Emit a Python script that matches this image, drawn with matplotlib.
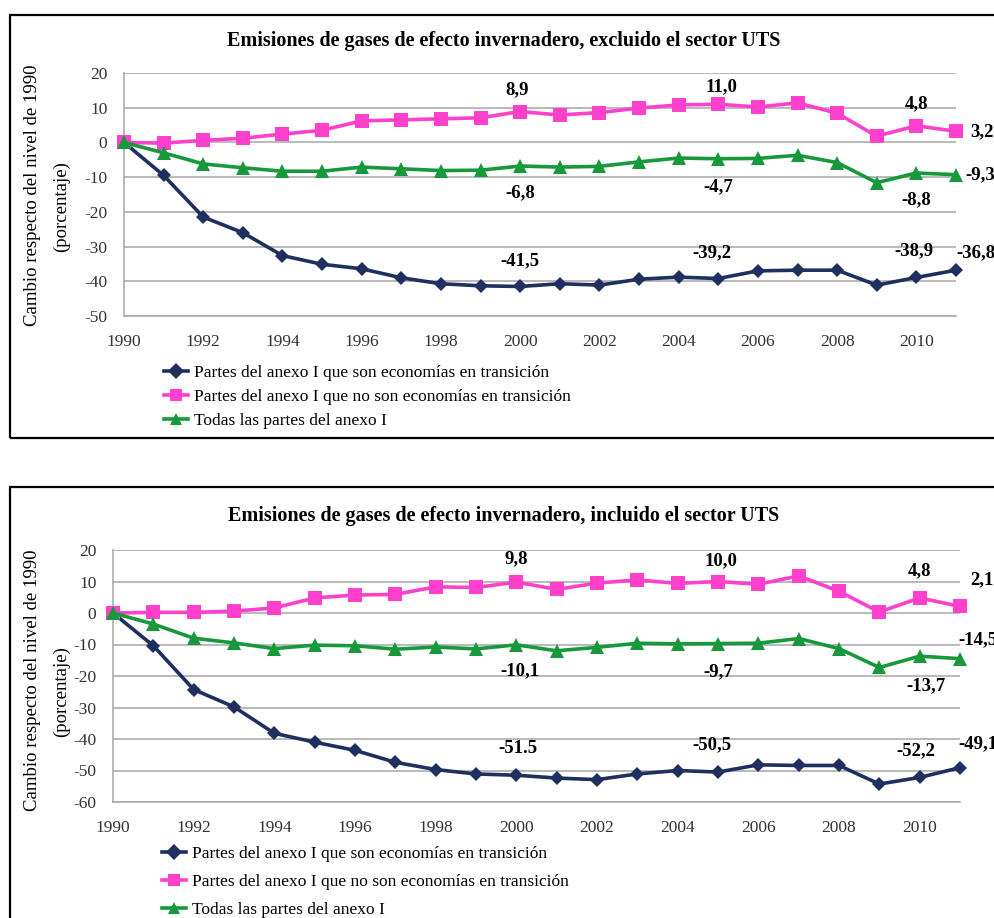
import matplotlib.pyplot as plt
from matplotlib.patches import Rectangle

plt.rcParams["axes.unicode_minus"] = False

years = list(range(1990, 2012))
series_names = ["Partes del anexo I que son economías en transición",
                "Partes del anexo I que no son economías en transición",
                "Todas las partes del anexo I"]

# excluding LULUCF (UTS)
eit_excl = [0, -9.5, -21.5, -26.0, -32.6, -35.1, -36.4, -39.0, -40.7, -41.3, -41.5,
            -40.7, -41.1, -39.4, -38.8, -39.2, -37.0, -36.8, -36.8, -41.1, -38.9, -36.8]
noneit_excl = [0, -0.2, 0.6, 1.2, 2.4, 3.5, 6.2, 6.5, 6.8, 7.1, 8.9,
               7.9, 8.6, 9.9, 10.8, 11.0, 10.2, 11.4, 8.4, 1.8, 4.8, 3.2]
all_excl = [0, -3.0, -6.2, -7.3, -8.3, -8.3, -7.1, -7.6, -8.1, -8.0, -6.8,
            -7.1, -6.9, -5.6, -4.5, -4.7, -4.6, -3.7, -5.8, -11.6, -8.8, -9.3]

# including LULUCF (UTS)
eit_incl = [0, -10.4, -24.3, -29.8, -38.2, -41.0, -43.6, -47.4, -49.7, -51.1, -51.5,
            -52.4, -52.9, -51.1, -50.0, -50.5, -48.2, -48.4, -48.4, -54.3, -52.2, -49.1]
noneit_incl = [0, 0.2, 0.2, 0.6, 1.6, 4.8, 5.7, 5.9, 8.3, 8.1, 9.8,
               7.5, 9.5, 10.5, 9.4, 10.0, 9.1, 11.8, 6.9, 0.3, 4.8, 2.1]
all_incl = [0, -3.5, -8.0, -9.5, -11.3, -10.2, -10.4, -11.5, -10.8, -11.4, -10.1,
            -12.0, -10.9, -9.6, -9.8, -9.7, -9.6, -8.1, -11.3, -17.3, -13.7, -14.5]

label_years = [2000, 2005, 2010, 2011]
labels_excl = [["-41,5", "-39,2", "-38,9", "-36,8"],
               ["8,9", "11,0", "4,8", "3,2"],
               ["-6,8", "-4,7", "-8,8", "-9,3"]]
labels_incl = [["-51.5", "-50,5", "-52,2", "-49,1"],
               ["9,8", "10,0", "4,8", "2,1"],
               ["-10,1", "-9,7", "-13,7", "-14,5"]]

colors = ["#1f3060", "#ff40cc", "#17993b"]
markers = ["D", "s", "^"]
msizes = [7, 10, 9.5]

serif = "Liberation Serif"
W, H = 995, 918
fig = plt.figure(figsize=(W / 100, H / 100), dpi=100)


def fx(px):
    return px / W


def fy(py):
    return 1 - py / H


def panel(rect, title, title_y, data, labels, offsets, ylim, ylab_y, leg_xy, leg_sp):
    ax = fig.add_axes(rect)
    for vals, c, m, ms, name in zip(data, colors, markers, msizes, series_names):
        ax.plot(years, vals, color=c, lw=2.6, marker=m, ms=ms, label=name,
                markeredgewidth=0, zorder=3, clip_on=False)
    for s, vals in enumerate(data):
        for k, yr in enumerate(label_years):
            dx, dy, ha = offsets[s][k]
            ax.annotate(labels[s][k], (yr, vals[years.index(yr)]), xytext=(dx, dy),
                        textcoords="offset pixels", ha=ha, va="center",
                        fontsize=13.5, fontweight="bold", family=serif,
                        annotation_clip=False)
    ax.set_xlim(1990, 2011)
    ax.set_ylim(*ylim)
    ax.set_xticks(range(1990, 2011, 2))
    ax.set_yticks(range(ylim[0], ylim[1] + 1, 10))
    ax.grid(axis="y", color="#a6a6a6", lw=1.1)
    ax.set_axisbelow(True)
    for sp in ["top", "right"]:
        ax.spines[sp].set_visible(False)
    for sp in ["left", "bottom"]:
        ax.spines[sp].set_color("#a6a6a6")
        ax.spines[sp].set_linewidth(1.1)
    ax.tick_params(length=0, labelsize=12.5, labelcolor="#333333")
    ax.tick_params(axis="x", pad=13)
    ax.tick_params(axis="y", pad=12)
    for t in ax.get_xticklabels() + ax.get_yticklabels():
        t.set_family(serif)
    fig.text(0.5 + 0.006, fy(title_y), title, ha="center", va="center",
             fontsize=14.5, fontweight="bold", family=serif)
    fig.text(fx(33), fy(ylab_y[0]), "Cambio respecto del nivel de 1990", rotation=90,
             ha="center", va="center", fontsize=13.5, family=serif)
    fig.text(fx(61), fy(ylab_y[1]), "(porcentaje)", rotation=90,
             ha="center", va="center", fontsize=13.5, family=serif)
    leg = ax.legend(loc="upper left", bbox_to_anchor=(fx(leg_xy[0]), fy(leg_xy[1])),
                    bbox_transform=fig.transFigure, frameon=False, borderpad=0,
                    borderaxespad=0, handlelength=1.4, handletextpad=0.3,
                    numpoints=1, labelspacing=leg_sp, prop={"family": serif, "size": 12.5})
    for h in leg.legend_handles:
        h.set_markersize(8)
    return ax


offs_excl = [[(0, 26, "center"), (-6, 26, "center"), (-2, 27, "center"), (0, 17, "left")],
             [(-3, 22, "center"), (3, 18, "center"), (0, 22, "center"), (14, 0, "left")],
             [(0, -27, "center"), (0, -28, "center"), (0, -27, "center"), (9, 0, "left")]]
offs_incl = [[(2, 27, "center"), (-6, 27, "center"), (-4, 27, "center"), (-2, 24, "left")],
             [(0, 23, "center"), (3, 21, "center"), (0, 27, "center"), (10, 27, "left")],
             [(4, -26, "center"), (0, -28, "center"), (6, -30, "center"), (-2, 19, "left")]]

panel([fx(124), fy(316), fx(832), 243 / H],
      "Emisiones de gases de efecto invernadero, excluido el sector UTS", 41,
      [eit_excl, noneit_excl, all_excl], labels_excl, offs_excl, (-50, 20),
      (195, 207), (164, 365), 0.45)
panel([fx(113), fy(802), fx(847), 252 / H],
      "Emisiones de gases de efecto invernadero, incluido el sector UTS", 516,
      [eit_incl, noneit_incl, all_incl], labels_incl, offs_incl, (-60, 20),
      (680, 692), (162, 846), 0.68)

# frames around the two panels (right edge runs off the image)
fig.add_artist(Rectangle((fx(10), fy(438)), fx(1000), 423 / H, transform=fig.transFigure,
                         fill=False, lw=1.6, ec="black", clip_on=False))
fig.add_artist(Rectangle((fx(10), fy(930)), fx(1000), 443 / H, transform=fig.transFigure,
                         fill=False, lw=1.6, ec="black", clip_on=False))

fig.savefig("out.png", dpi=100)
